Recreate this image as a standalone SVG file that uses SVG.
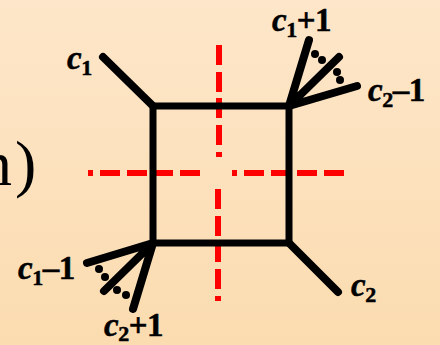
<svg xmlns="http://www.w3.org/2000/svg" width="440" height="345" viewBox="0 0 440 345">
<style>
.e{fill:none;stroke:#000;stroke-width:7;stroke-linecap:round;stroke-linejoin:miter}
.k{stroke-width:8}
.r{fill:#f00}
.d{fill:#000}
text{font-family:"Liberation Serif","Times New Roman",serif;fill:#000}
.l{font-size:33px;font-weight:bold;stroke:#000;stroke-width:.5;letter-spacing:-.5px}
.c{font-style:italic}
.s{font-size:22px}
</style>
<defs><linearGradient id="bg" x1="0" y1="0" x2="0" y2="1"><stop offset="0" stop-color="#fde6c9"/><stop offset="1" stop-color="#fbdcb0"/></linearGradient></defs>
<rect width="440" height="345" fill="url(#bg)"/>
<text id="frag" x="-20" y="185" font-size="64" letter-spacing="3" fill="#222">n)</text>
<g id="cuts">
<rect class="r" x="88" y="170" width="5" height="6"/><rect class="r" x="100" y="170" width="20" height="6"/><rect class="r" x="127" y="170" width="20" height="6"/><rect class="r" x="153" y="170" width="20" height="6"/><rect class="r" x="180" y="170" width="20" height="6"/>
<rect class="r" x="232" y="170" width="5" height="6"/><rect class="r" x="244" y="170" width="20" height="6"/><rect class="r" x="271" y="170" width="20" height="6"/><rect class="r" x="297" y="170" width="20" height="6"/><rect class="r" x="324" y="170" width="20" height="6"/>
<rect class="r" x="216" y="45" width="6" height="20"/><rect class="r" x="216" y="72" width="6" height="20"/><rect class="r" x="216" y="98" width="6" height="20"/><rect class="r" x="216" y="125" width="6" height="20"/><rect class="r" x="216" y="152" width="6" height="5"/>
<rect class="r" x="215" y="189" width="6" height="20"/><rect class="r" x="215" y="216" width="6" height="20"/><rect class="r" x="215" y="242" width="6" height="20"/><rect class="r" x="215" y="269" width="6" height="20"/><rect class="r" x="215" y="296" width="6" height="5"/>
</g>
<g id="connectors">
<rect class="e" x="153" y="106" width="136" height="137"/>
<path class="e k" d="M103 57L153 106M289 243L338 292"/>
<path class="e k" d="M289 106L309 40M289 106L339 57M289 106L357 86"/>
<path class="e k" d="M153 243L87 263M153 243L104 291M153 243L133 309"/>
</g>
<g id="dots">
<circle class="d" cx="315" cy="54" r="4"/><circle class="d" cx="322" cy="60" r="4"/><circle class="d" cx="337" cy="72" r="4"/><circle class="d" cx="340" cy="80" r="4"/>
<circle class="d" cx="99" cy="269" r="4"/><circle class="d" cx="105" cy="277" r="4"/><circle class="d" cx="117" cy="290" r="4"/><circle class="d" cx="126" cy="295" r="4"/>
</g>
<g id="labels">
<text class="l" x="67" y="69"><tspan class="c">c</tspan><tspan class="s" dy="6">1</tspan></text>
<text class="l" x="272" y="31"><tspan class="c">c</tspan><tspan class="s" dy="6">1</tspan><tspan dy="-6">+1</tspan></text>
<text class="l" x="368" y="101"><tspan class="c">c</tspan><tspan class="s" dy="6">2</tspan><tspan dy="-6">–1</tspan></text>
<text class="l" x="18" y="279"><tspan class="c">c</tspan><tspan class="s" dy="6">1</tspan><tspan dy="-6">–1</tspan></text>
<text class="l" x="104" y="336"><tspan class="c">c</tspan><tspan class="s" dy="5">2</tspan><tspan dy="-5">+1</tspan></text>
<text class="l" x="351" y="296"><tspan class="c">c</tspan><tspan class="s" dy="6">2</tspan></text>
</g>
</svg>
